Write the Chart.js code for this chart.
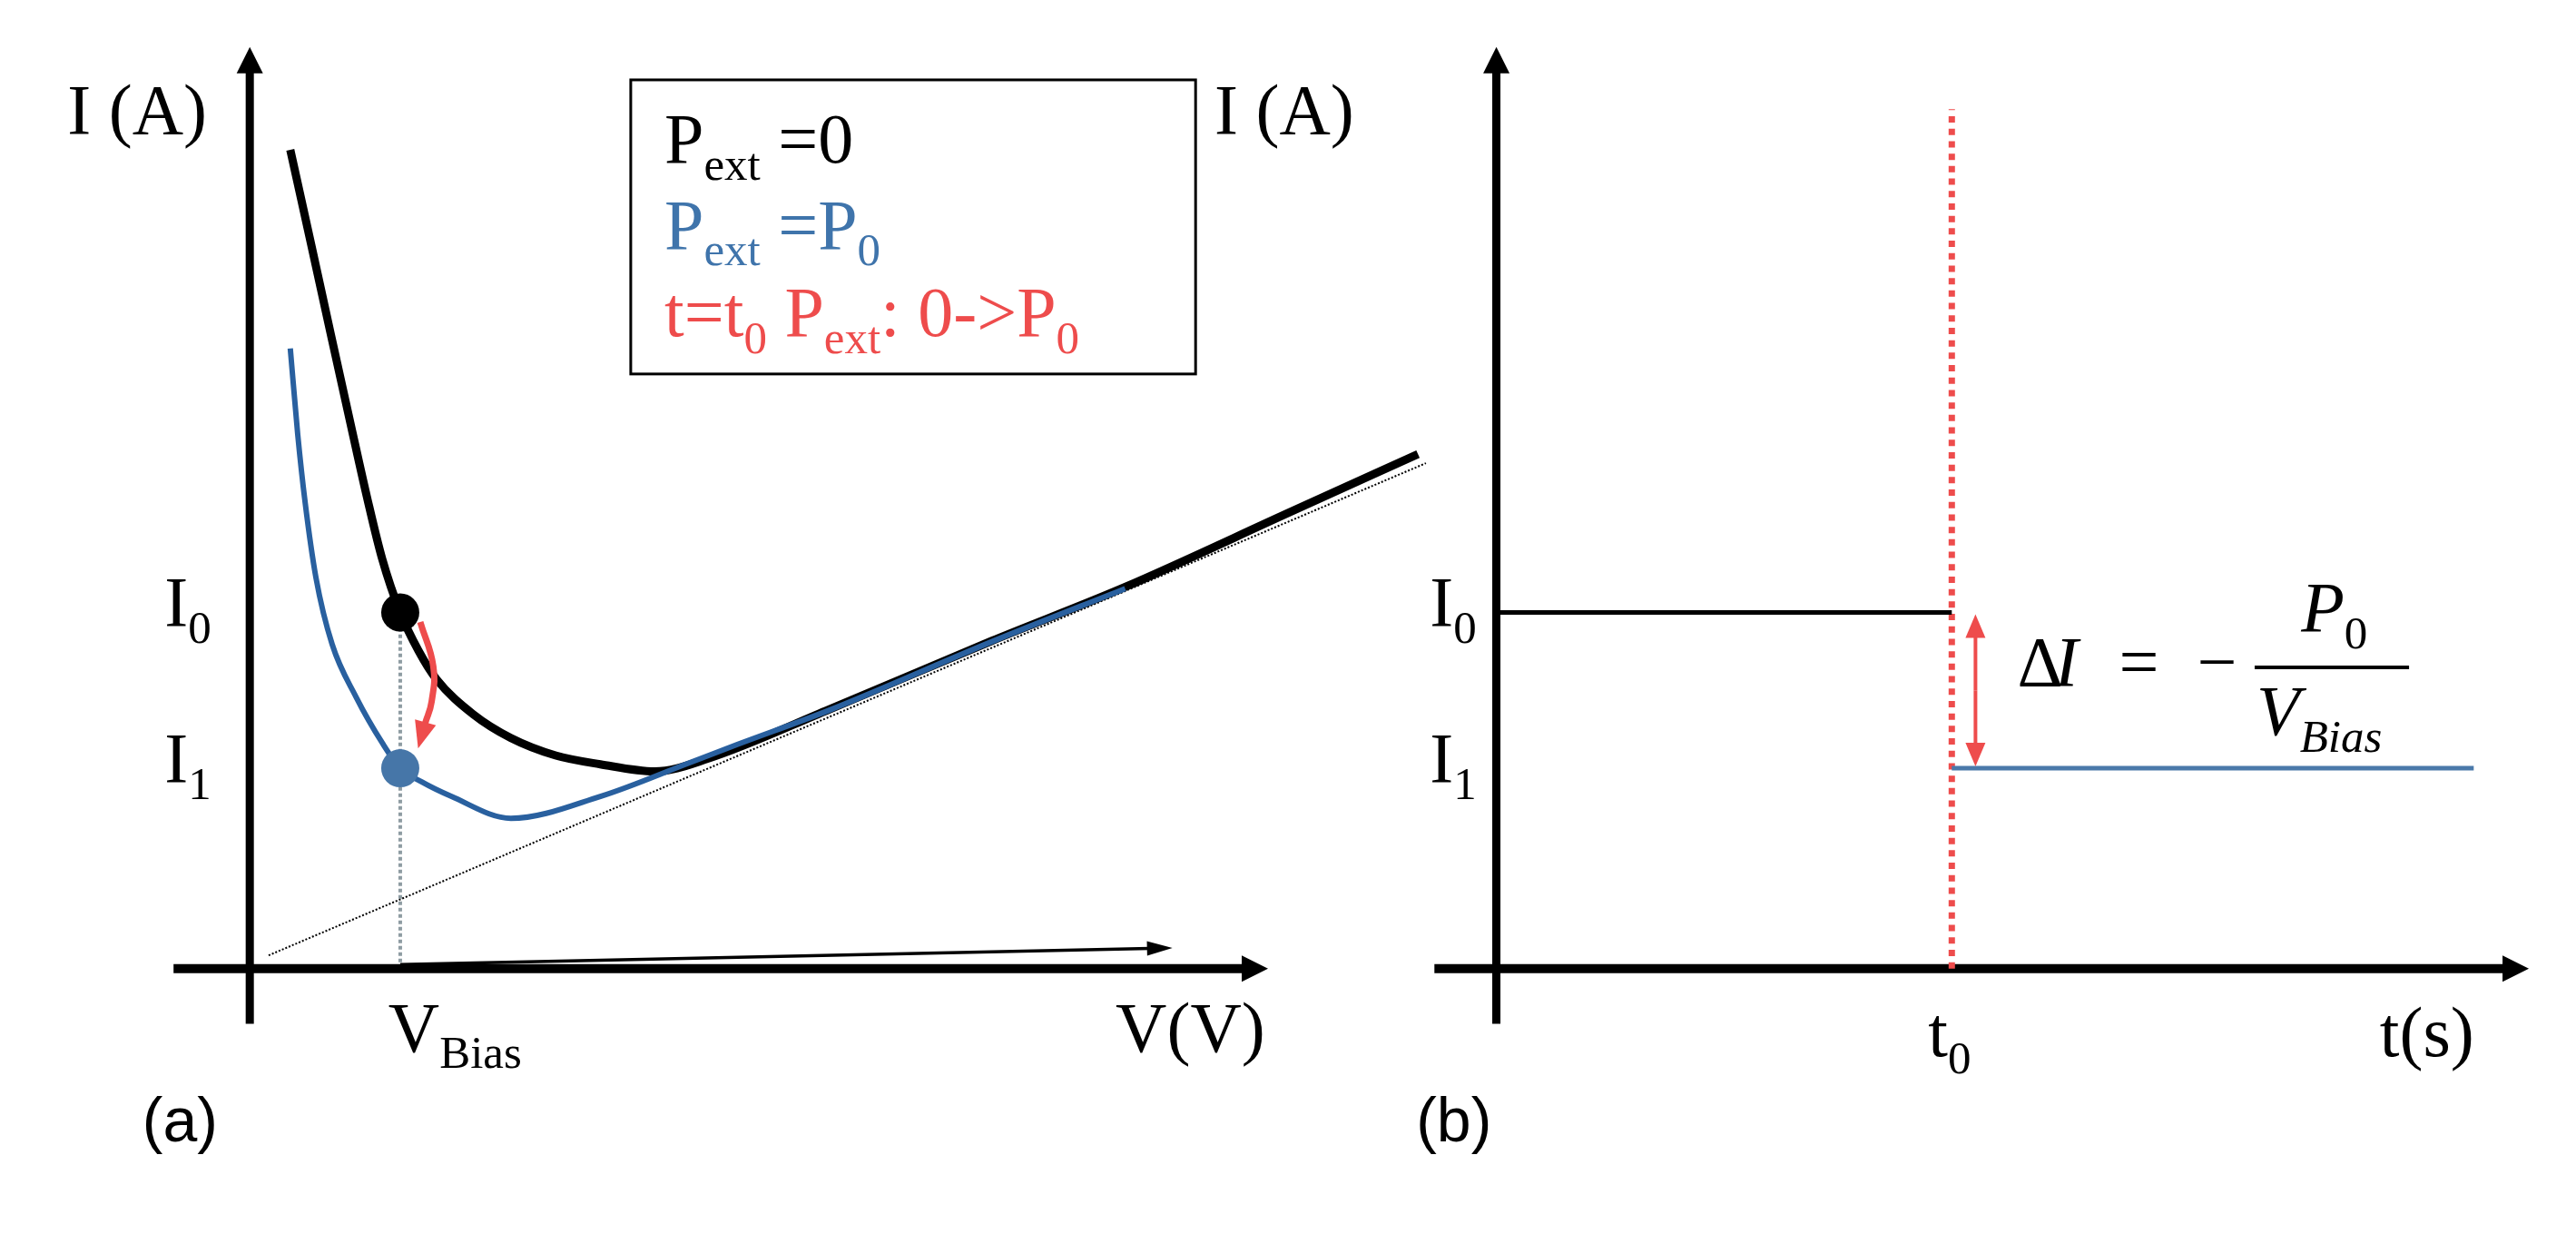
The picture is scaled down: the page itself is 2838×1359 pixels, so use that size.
<!DOCTYPE html>
<html>
<head>
<meta charset="utf-8">
<title>I-V bias point and current step</title>
<script src="https://cdn.jsdelivr.net/npm/chart.js@4.4.1/dist/chart.umd.min.js"></script>
<style>
  html, body { margin: 0; padding: 0; background: #fff; overflow: hidden; }
  #wrap { width: 2838px; height: 1359px; }
</style>
</head>
<body>
<div id="wrap"><canvas id="fig" width="2838" height="1359"></canvas></div>
<script>
// ---- panel (a): I-V curves (arbitrary units) ----
const darkV = [2.45, 3.68, 4.90, 6.13, 7.1, 8.0, 9.1, 10.2, 11.29, 13.5, 15.79, 18.5, 21.2, 24.5, 27.7, 35.05, 44.85, 52.94, 62.89, 70.65];
const darkI = [51.5, 45.7, 39.9, 34.1, 29.6, 25.8, 22.4, 20.0, 18.2, 16.0, 14.5, 13.4, 12.85, 12.4, 13.2, 16.3, 20.6, 24.0, 28.7, 32.36];
const litV = [2.45, 2.9, 3.35, 4.0, 4.98, 6.42, 8.04, 9.1, 10.38, 12.19, 15.79, 21.2, 26.6, 29.5, 35.05, 44.85, 52.94];
const litI = [39.0, 33.6, 29.3, 24.6, 20.4, 17.1, 14.15, 12.6, 11.75, 10.83, 9.45, 10.83, 12.95, 14.1, 16.25, 20.55, 23.9];
const tangentV = [1.14, 71.13];
const tangentI = [0.83, 31.79];
const V_BIAS = 9.1;
const I0 = 22.4;
const I1 = 12.6;
const sweepV = [9.1, 55.8];
const sweepI = [0.25, 1.3];
const jumpV = [10.31, 11.1, 11.0, 10.6];
const jumpI = [21.8, 19.0, 16.8, 15.4];
const jumpTip = [10.18, 13.84];
const axisAV = [-4.61, 61.58];
const axisAI = [-3.47, 57.97];

// ---- panel (b): current vs time ----
const T0 = 10;
const T_END = 21.46;
const axisBT = [-1.36, 22.67];
const axisBI = [-3.47, 57.97];
const guideI = [0, 54.06];
const deltaT = 10.52;

const legendLines = [
  { color: '#000000', parts: [['P', ''], ['ext', 's'], [' =0', '']] },
  { color: '#3f74ab', parts: [['P', ''], ['ext', 's'], [' =P', ''], ['0', 's']] },
  { color: '#ee4c4c', parts: [['t=t', ''], ['0', 's'], [' P', ''], ['ext', 's'], [': 0->P', ''], ['0', 's']] }
];

const RED = '#ee4c4c';
const SERIF = '"Liberation Serif", "DejaVu Serif", serif';
const FS = 78;

const pts = (xs, ys) => xs.map((x, i) => ({ x: x, y: ys[i] }));

function runs(ctx, x, y, parts, size, color, alignRight) {
  ctx.fillStyle = color;
  ctx.textBaseline = 'alphabetic';
  ctx.textAlign = 'left';
  const fontOf = kind => {
    const fs = kind.includes('s') ? Math.round(size * 0.66) : size;
    return (kind.includes('i') ? 'italic ' : '') + fs + 'px ' + SERIF;
  };
  let cx = x;
  if (alignRight) {
    let w = 0;
    for (const [txt, kind] of parts) { ctx.font = fontOf(kind); w += ctx.measureText(txt).width; }
    cx = x - w;
  }
  for (const [txt, kind] of parts) {
    ctx.font = fontOf(kind);
    ctx.fillText(txt, cx, kind.includes('s') ? y + size * 0.24 : y);
    cx += ctx.measureText(txt).width;
  }
  return cx;
}

function head(ctx, fx, fy, tx, ty, len, half, color) {
  const a = Math.atan2(ty - fy, tx - fx);
  ctx.save();
  ctx.translate(tx, ty);
  ctx.rotate(a);
  ctx.beginPath();
  ctx.moveTo(0, 0);
  ctx.lineTo(-len, -half);
  ctx.lineTo(-len, half);
  ctx.closePath();
  ctx.fillStyle = color;
  ctx.fill();
  ctx.restore();
}

function arrow(ctx, fx, fy, tx, ty, width, len, half, color) {
  const d = Math.hypot(tx - fx, ty - fy);
  const ex = tx - (tx - fx) / d * len * 0.9;
  const ey = ty - (ty - fy) / d * len * 0.9;
  ctx.beginPath();
  ctx.moveTo(fx, fy);
  ctx.lineTo(ex, ey);
  ctx.lineWidth = width;
  ctx.strokeStyle = color;
  ctx.lineCap = 'butt';
  ctx.stroke();
  head(ctx, fx, fy, tx, ty, len, half, color);
}

const sketch = {
  id: 'sketch',
  beforeDatasetsDraw(chart) {
    const ctx = chart.ctx;
    const xa = chart.scales.xa, xb = chart.scales.xb, y = chart.scales.y;
    ctx.save();
    // axes of panel (a)
    arrow(ctx, xa.getPixelForValue(0), y.getPixelForValue(axisAI[0]), xa.getPixelForValue(0), y.getPixelForValue(axisAI[1]), 9, 29, 14.5, '#000');
    arrow(ctx, xa.getPixelForValue(axisAV[0]), y.getPixelForValue(0), xa.getPixelForValue(axisAV[1]), y.getPixelForValue(0), 10, 29, 14.5, '#000');
    // axes of panel (b)
    arrow(ctx, xb.getPixelForValue(0), y.getPixelForValue(axisBI[0]), xb.getPixelForValue(0), y.getPixelForValue(axisBI[1]), 9, 29, 14.5, '#000');
    arrow(ctx, xb.getPixelForValue(axisBT[0]), y.getPixelForValue(0), xb.getPixelForValue(axisBT[1]), y.getPixelForValue(0), 10, 29, 14.5, '#000');
    ctx.restore();
  },
  afterDatasetsDraw(chart) {
    const ctx = chart.ctx;
    const xa = chart.scales.xa, xb = chart.scales.xb, y = chart.scales.y;
    const px = v => xa.getPixelForValue(v), qx = v => xb.getPixelForValue(v), py = v => y.getPixelForValue(v);
    ctx.save();

    // thin sweep arrow along V
    arrow(ctx, px(sweepV[0]), py(sweepI[0]), px(sweepV[1]), py(sweepI[1]), 3.5, 28, 8, '#000');
    // red jump arrowhead
    const n = jumpV.length - 1;
    head(ctx, px(jumpV[n]), py(jumpI[n]), px(jumpTip[0]), py(jumpTip[1]), 30, 12, RED);
    // red double arrow in (b)
    const dx = qx(deltaT), top = py(I0) + 2, bot = py(I1) - 2;
    arrow(ctx, dx, (top + bot) / 2, dx, top, 4, 26, 11, RED);
    arrow(ctx, dx, (top + bot) / 2, dx, bot, 4, 26, 11, RED);

    // legend box
    ctx.lineWidth = 3;
    ctx.strokeStyle = '#000';
    ctx.strokeRect(px(23.04), py(55.9), px(57.2) - px(23.04), py(37.4) - py(55.9));
    const rowI = [50.7, 45.3, 39.8];
    legendLines.forEach((l, i) => runs(ctx, px(25.08), py(rowI[i]), l.parts, FS, l.color));

    // axis labels (a)
    runs(ctx, px(-11.03), py(52.55), [['I (A)', '']], FS, '#000');
    runs(ctx, px(-5.15), py(21.56), [['I', ''], ['0', 's']], FS, '#000');
    runs(ctx, px(-5.15), py(11.74), [['I', ''], ['1', 's']], FS, '#000');
    runs(ctx, px(8.38), py(-5.19), [['V', ''], ['Bias', 's']], FS, '#000');
    runs(ctx, px(61.4), py(-5.2), [['V(V)', '']], FS, '#000', true);
    // axis labels (b)
    runs(ctx, qx(-6.19), py(52.55), [['I (A)', '']], FS, '#000');
    runs(ctx, qx(-1.46), py(21.56), [['I', ''], ['0', 's']], FS, '#000');
    runs(ctx, qx(-1.46), py(11.74), [['I', ''], ['1', 's']], FS, '#000');
    runs(ctx, qx(9.48), py(-5.5), [['t', ''], ['0', 's']], FS, '#000');
    runs(ctx, qx(21.47), py(-5.5), [['t(s)', '']], FS, '#000', true);

    // panel tags
    ctx.font = '68px "Liberation Sans", Arial, sans-serif';
    ctx.fillStyle = '#000';
    ctx.fillText('(a)', px(-6.5), py(-10.9));
    ctx.fillText('(b)', qx(-1.76), py(-10.9));

    // Delta I = - P0 / V_Bias
    const fx = qx(11.44), fy = py(17.8);
    runs(ctx, fx, fy, [['\u0394', '']], FS, '#000');
    runs(ctx, fx + 41, fy, [['I', 'i']], FS, '#000');
    runs(ctx, fx + 112, fy, [['=', '']], FS, '#000');
    runs(ctx, fx + 198, fy, [['\u2212', '']], FS, '#000');
    ctx.beginPath();
    ctx.moveTo(qx(16.65), py(18.95));
    ctx.lineTo(qx(20.04), py(18.95));
    ctx.lineWidth = 4;
    ctx.strokeStyle = '#000';
    ctx.stroke();
    runs(ctx, qx(17.67), py(21.24), [['P', 'i'], ['0', 's']], FS, '#000');
    runs(ctx, qx(16.69), py(14.7), [['V', 'i'], ['Bias', 'si']], FS, '#000');
    ctx.restore();
  }
};

new Chart(document.getElementById('fig'), {
  type: 'scatter',
  data: {
    datasets: [
      { data: [{ x: V_BIAS, y: I0 }], xAxisID: 'xa', yAxisID: 'y', pointRadius: 21, backgroundColor: '#000', borderWidth: 0 },
      { data: [{ x: V_BIAS, y: I1 }], xAxisID: 'xa', yAxisID: 'y', pointRadius: 21, backgroundColor: '#4676a8', borderWidth: 0 },
      { data: pts(jumpV, jumpI), xAxisID: 'xa', yAxisID: 'y', showLine: true, tension: 0.45, borderColor: RED, borderWidth: 7, pointRadius: 0 },
      { data: pts(litV, litI), xAxisID: 'xa', yAxisID: 'y', showLine: true, cubicInterpolationMode: 'monotone', borderColor: '#29609f', borderWidth: 6, pointRadius: 0 },
      { data: pts(darkV, darkI), xAxisID: 'xa', yAxisID: 'y', showLine: true, cubicInterpolationMode: 'monotone', borderColor: '#000', borderWidth: 9, pointRadius: 0 },
      { data: pts(tangentV, tangentI), xAxisID: 'xa', yAxisID: 'y', showLine: true, borderColor: '#000', borderWidth: 2, borderDash: [2, 2], pointRadius: 0 },
      { data: [{ x: V_BIAS, y: 0.4 }, { x: V_BIAS, y: I0 }], xAxisID: 'xa', yAxisID: 'y', showLine: true, borderColor: '#8e9ca2', borderWidth: 4, borderDash: [4, 3], pointRadius: 0 },
      // panel (b)
      { data: [{ x: 0, y: I0 }, { x: T0, y: I0 }], xAxisID: 'xb', yAxisID: 'y', showLine: true, borderColor: '#000', borderWidth: 5, pointRadius: 0 },
      { data: [{ x: T0, y: I1 }, { x: T_END, y: I1 }], xAxisID: 'xb', yAxisID: 'y', showLine: true, borderColor: '#4a79aa', borderWidth: 5, pointRadius: 0 },
      { data: [{ x: T0, y: guideI[0] }, { x: T0, y: guideI[1] }], xAxisID: 'xb', yAxisID: 'y', showLine: true, borderColor: RED, borderWidth: 7, borderDash: [7, 6.7], pointRadius: 0 }
    ]
  },
  options: {
    responsive: false,
    animation: false,
    events: [],
    layout: { padding: 0 },
    plugins: { legend: { display: false }, tooltip: { enabled: false } },
    scales: {
      xa: { type: 'linear', position: 'bottom', min: -13.953, max: 139.53, display: false },
      xb: { type: 'linear', position: 'bottom', min: -32.436, max: 23.287, display: false },
      y: { type: 'linear', position: 'left', min: -15.498, max: 59.725, display: false }
    }
  },
  plugins: [sketch]
});
</script>
</body>
</html>
